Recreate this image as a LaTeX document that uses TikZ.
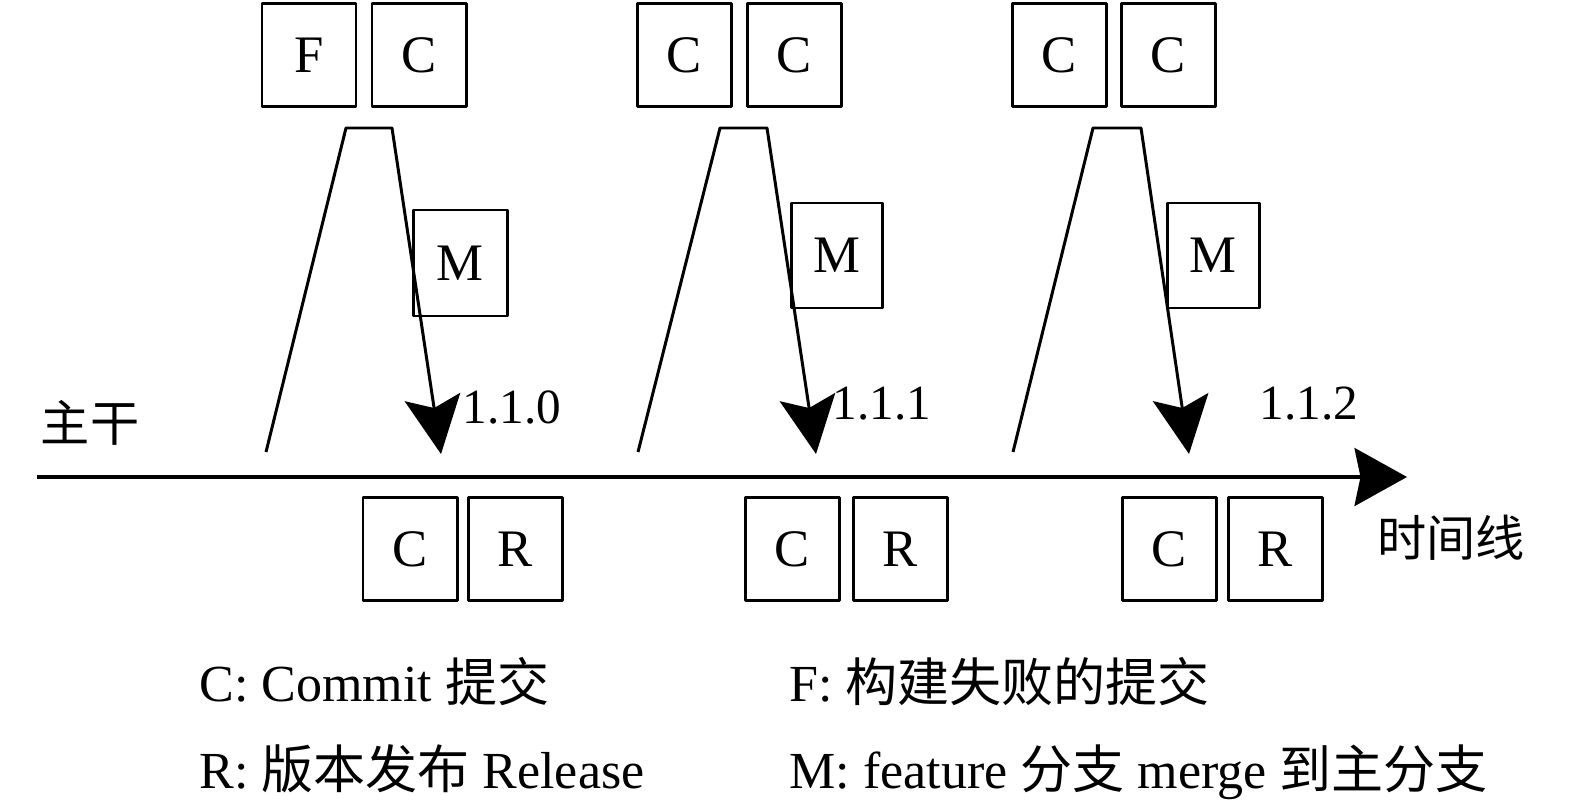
\documentclass[tikz,border=0pt]{standalone}
\usepackage{fontspec}
\setmainfont{Liberation Serif}
\newfontfamily\cjk{Noto Sans CJK SC}
\usetikzlibrary{arrows.meta,positioning}

\begin{document}
\begin{tikzpicture}[line width=1.7pt, line join=round]

		\tikzstyle{commit}=[rectangle, draw, inner sep=0pt, minimum width=1.88cm, minimum height=2.06cm, font=\fontsize{30}{36}\selectfont]
		\tikzstyle{ver}=[font=\fontsize{28}{34}\selectfont]
		\tikzstyle{lbl}=[font=\fontsize{28}{34}\selectfont\cjk]
		\tikzstyle{legend}=[anchor=base west, inner sep=0pt, font=\fontsize{29.6}{36}\selectfont]
		\tikzstyle{branch}=[-{Stealth[length=1.15cm, width=1.12cm, inset=0.22cm]}]

		\useasboundingbox (0,0) rectangle (31.5,16.18);

		% commits on the feature branches
		\node[commit] (f1) at (6.18,15.08)  {F};
		\node[commit] (c1) at (8.38,15.08)  {C};
		\node[commit] (c2) at (13.68,15.08) {C};
		\node[commit] (c3) at (15.88,15.08) {C};
		\node[commit] (c4) at (21.18,15.08) {C};
		\node[commit] (c5) at (23.36,15.08) {C};

		% merges
		\node[commit, minimum height=2.12cm] (m1) at (9.20,10.92) {M};
		\node[commit, minimum width=1.82cm, minimum height=2.1cm] (m2) at (16.73,11.07) {M};
		\node[commit, minimum width=1.84cm, minimum height=2.1cm] (m3) at (24.26,11.07) {M};

		% commits and releases on the trunk
		\node[commit] (k1) at (8.20,5.20)  {C};
		\node[commit] (r1) at (10.31,5.20) {R};
		\node[commit] (k2) at (15.84,5.20) {C};
		\node[commit] (r2) at (18.00,5.20) {R};
		\node[commit] (k3) at (23.38,5.20) {C};
		\node[commit] (r3) at (25.50,5.20) {R};

		% branch outlines
		\coordinate (s1) at (5.32,7.14);  \coordinate (a1) at (6.92,13.62);
		\coordinate (b1) at (7.84,13.62); \coordinate (e1) at (8.82,7.10);
		\coordinate (s2) at (12.76,7.14); \coordinate (a2) at (14.40,13.62);
		\coordinate (b2) at (15.34,13.62); \coordinate (e2) at (16.32,7.10);
		\coordinate (s3) at (20.26,7.14); \coordinate (a3) at (21.86,13.62);
		\coordinate (b3) at (22.82,13.62); \coordinate (e3) at (23.78,7.10);

		\draw[branch] (s1) -- (a1) -- (b1) -- (e1);
		\draw[branch] (s2) -- (a2) -- (b2) -- (e2);
		\draw[branch] (s3) -- (a3) -- (b3) -- (e3);

		\node[ver] (v1) at (10.24,8.04) {1.1.0};
		\node[ver] (v2) at (17.64,8.10) {1.1.1};
		\node[ver] (v3) at (26.18,8.10) {1.1.2};

		% time line
		\coordinate (t0) at (0.74,6.64);
		\coordinate (t1) at (28.14,6.64);
		\draw[line width=1.9pt, -{Stealth[length=1.05cm, width=1.16cm, inset=0.12cm]}] (t0) -- (t1);

		\node[lbl] (trunk) at (1.80,7.72) {主干};
		\node[lbl] (time) at (29.02,5.42) {时间线};

		% legend
		\node[legend] (lc) at (3.96,2.16) {C: Commit {\cjk 提交}};
		\node[legend] (lf) at (15.76,2.16) {F: {\cjk 构建失败的提交}};
		\node[legend] (lr) at (3.96,0.42) {R: {\cjk 版本发布} Release};
		\node[legend] (lm) at (15.76,0.42) {M: feature {\cjk 分支} merge {\cjk 到主分支}};

\end{tikzpicture}
\end{document}
